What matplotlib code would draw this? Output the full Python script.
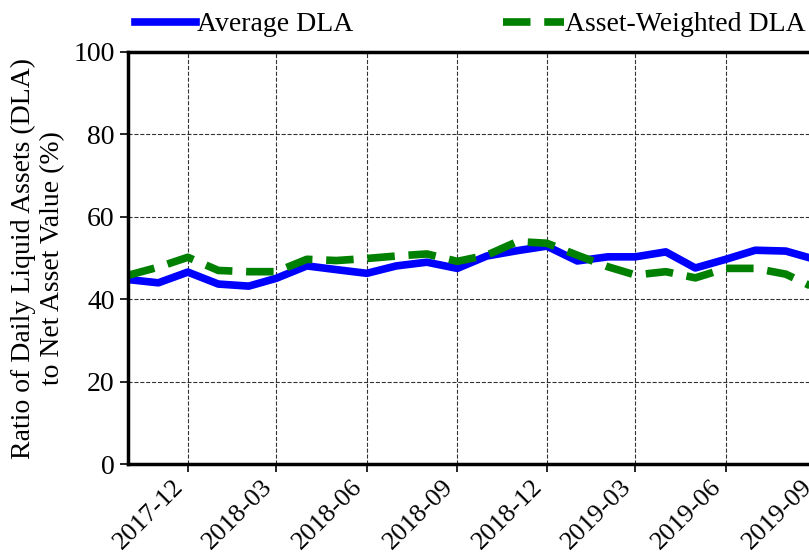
import numpy as np
import pandas as pd
import matplotlib
matplotlib.use("Agg")
import matplotlib.pyplot as plt
import matplotlib.dates as mdates

months = pd.date_range("2017-10-01", "2019-09-01", freq="MS")
average_dla = [44.8, 44.0, 46.6, 43.7, 43.2, 45.1, 48.1, 47.2, 46.3, 48.1, 49.0, 47.5,
               50.5, 51.8, 52.9, 49.3, 50.3, 50.3, 51.5, 47.6, 49.7, 51.9, 51.7, 49.6]
weighted_dla = [45.8, 47.8, 50.2, 47.0, 46.7, 46.7, 49.7, 49.4, 49.9, 50.5, 51.0, 49.2,
                50.7, 54.0, 53.6, 50.7, 47.9, 45.9, 46.7, 45.2, 47.5, 47.5, 46.1, 42.6]

plt.rcParams['font.family'] = ['Liberation Serif', 'DejaVu Serif']

fig = plt.figure(figsize=(8.09, 5.58), dpi=100)
ax = fig.add_axes([0.158, 0.168, 0.851, 0.739])

ax.plot(months, average_dla, color='blue', lw=5.5, label='Average DLA')
ax.plot(months, weighted_dla, color='green', lw=5.5, ls=(0, (3.6, 1.8)), label='Asset-Weighted DLA')

ax.set_xlim(months[0], months[-1])
ax.set_ylim(0, 100)
ax.set_yticks(range(0, 101, 20))
ax.xaxis.set_major_locator(mdates.MonthLocator(bymonth=[3, 6, 9, 12]))
ax.xaxis.set_major_formatter(mdates.DateFormatter('%Y-%m'))
ax.tick_params(axis='x', labelsize=19, pad=2)
ax.tick_params(axis='y', labelsize=20)
for lab in ax.get_xticklabels():
    lab.set_rotation(45)
    lab.set_ha('right')

ax.grid(True, color='black', ls='--', lw=0.8, alpha=0.8)
for s in ax.spines.values():
    s.set_linewidth(2.5)
ax.tick_params(width=1.2, length=6)
ax.set_ylabel('Ratio of Daily Liquid Assets (DLA)\nto Net Asset Value (%)', fontsize=20,
              labelpad=6)

ax.legend(loc='lower left', bbox_to_anchor=(0.01, 1.035, 0.975, 0.1), ncol=2, mode='expand',
          frameon=False, fontsize=20, handlelength=2.2, handletextpad=0.05,
          borderaxespad=0.0, borderpad=0.0)

fig.savefig('out.png', dpi=100)
